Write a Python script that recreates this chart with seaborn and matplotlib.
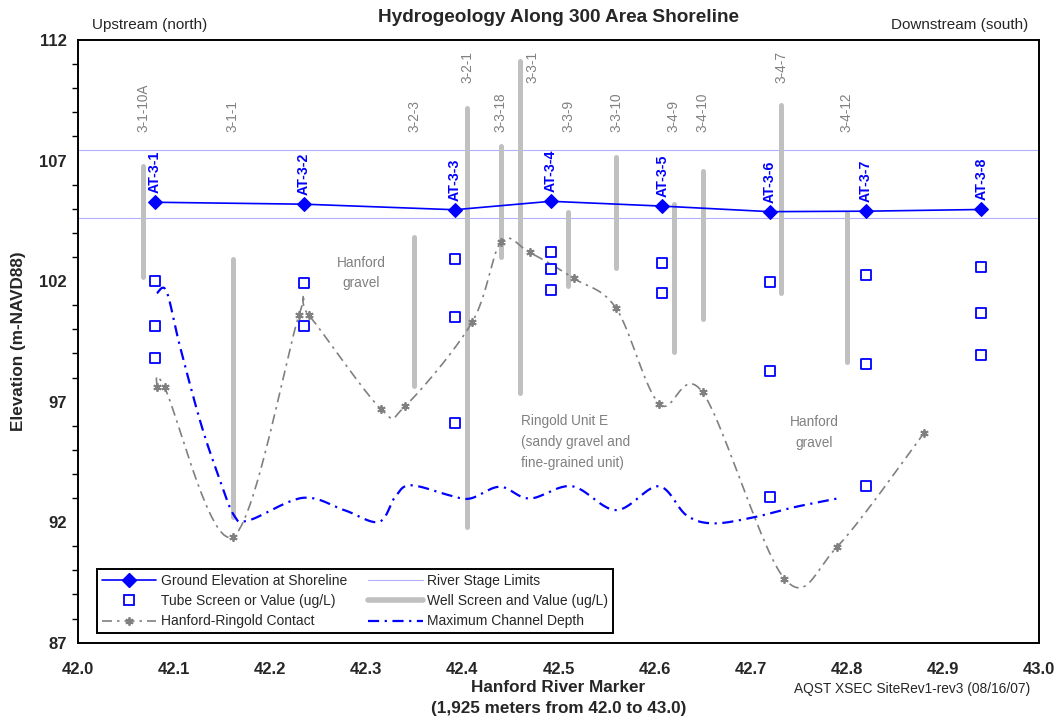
import numpy as np
import matplotlib
matplotlib.use("Agg")
import matplotlib.pyplot as plt
from matplotlib.lines import Line2D
from matplotlib.ticker import MultipleLocator, FixedLocator, FormatStrFormatter
import seaborn as sns

# ---------------- data ----------------
# Aquifer tube stations along the shoreline (river marker, ground elevation m)
at_names = ["AT-3-1", "AT-3-2", "AT-3-3", "AT-3-4", "AT-3-5", "AT-3-6", "AT-3-7", "AT-3-8"]
at_marker = [42.080, 42.235, 42.392, 42.492, 42.608, 42.720, 42.820, 42.940]
at_ground = [105.27, 105.19, 104.96, 105.31, 105.11, 104.88, 104.90, 104.97]

# Tube screen elevations (station, elevation m)
tube_station = ["AT-3-1", "AT-3-1", "AT-3-1",
                "AT-3-2", "AT-3-2",
                "AT-3-3", "AT-3-3", "AT-3-3",
                "AT-3-4", "AT-3-4", "AT-3-4",
                "AT-3-5", "AT-3-5",
                "AT-3-6", "AT-3-6", "AT-3-6",
                "AT-3-7", "AT-3-7", "AT-3-7",
                "AT-3-8", "AT-3-8", "AT-3-8"]
tube_elev = [102.00, 100.15, 98.83,
             101.92, 100.12,
             102.90, 100.52, 96.11,
             103.20, 102.49, 101.64,
             102.75, 101.49,
             101.96, 98.28, 93.05,
             102.26, 98.58, 93.51,
             102.57, 100.68, 98.92]

# Well screens (name, river marker, top and bottom of screen, m)
well_names = ["3-1-10A", "3-1-1", "3-2-3", "3-2-1", "3-3-18", "3-3-1",
              "3-3-9", "3-3-10", "3-4-9", "3-4-10", "3-4-7", "3-4-12"]
well_marker = [42.068, 42.161, 42.350, 42.405, 42.440, 42.460,
               42.510, 42.560, 42.620, 42.650, 42.732, 42.800]
well_top = [106.78, 102.90, 103.81, 109.19, 107.60, 111.14,
            104.85, 107.13, 105.20, 106.56, 109.29, 104.82]
well_bottom = [102.18, 92.20, 97.66, 91.78, 102.98, 97.37,
               101.78, 102.53, 99.05, 100.41, 101.49, 98.65]

# Hanford-Ringold contact picks
contact_marker = [42.082, 42.090, 42.161, 42.230, 42.240, 42.315, 42.340, 42.410,
                  42.440, 42.470, 42.516, 42.560, 42.605, 42.650, 42.735, 42.790, 42.880]
contact_elev = [97.59, 97.59, 91.39, 100.59, 100.59, 96.70, 96.80, 100.29,
                103.61, 103.19, 102.11, 100.87, 96.90, 97.38, 89.66, 90.98, 95.68]

# Maximum channel depth profile
channel_marker = [42.082, 42.092, 42.106, 42.127, 42.144, 42.162, 42.178, 42.234,
                  42.277, 42.313, 42.330, 42.346, 42.387, 42.408, 42.439, 42.470,
                  42.514, 42.560, 42.604, 42.633, 42.661, 42.703, 42.744, 42.790]
channel_elev = [101.50, 101.58, 99.30, 96.20, 94.15, 92.30, 92.08, 93.01,
                92.50, 92.01, 93.05, 93.53, 93.11, 92.98, 93.47, 92.98,
                93.49, 92.50, 93.49, 92.29, 91.95, 92.20, 92.61, 92.98]

# River stage limits (m)
river_stage = [107.45, 104.61]

# Elevation axis ticks
y_ticks = [87, 92, 97, 102, 107, 112]

# Geologic unit annotations
units = ["Hanford\ngravel", "Ringold Unit E\n(sandy gravel and\nfine-grained unit)", "Hanford\ngravel"]


def smooth(xs, ys, n=24):
    """Catmull-Rom spline through the given vertices (smoothed line style)."""
    p = np.column_stack([xs, ys]).astype(float)
    p = np.vstack([p[0], p, p[-1]])
    out = []
    t = np.linspace(0, 1, n, endpoint=False)[:, None]
    for i in range(1, len(p) - 2):
        p0, p1, p2, p3 = p[i - 1], p[i], p[i + 1], p[i + 2]
        seg = 0.5 * ((2 * p1) + (-p0 + p2) * t + (2 * p0 - 5 * p1 + 4 * p2 - p3) * t ** 2
                     + (-p0 + 3 * p1 - 3 * p2 + p3) * t ** 3)
        out.append(seg)
    out.append(p[-2][None, :])
    out = np.vstack(out)
    return out[:, 0], out[:, 1]


# ---------------- style ----------------
sns.set_style("white")
plt.rcParams["font.family"] = ["Liberation Sans", "DejaVu Sans"]

BLUE = "#0000ff"
GRAY = "#808080"
LIGHTGRAY = "#c0c0c0"

fig = plt.figure(figsize=(10.59, 7.21), dpi=100)
ax = fig.add_axes([0.0737, 0.1086, 0.9074, 0.8359])

# River stage limits
for lvl in river_stage:
    ax.axhline(lvl, color="#b0b0ff", lw=0.8, zorder=1)

# Well screens
ax.vlines(well_marker, well_bottom, well_top, colors=LIGHTGRAY, linewidth=3.6,
          capstyle="round", zorder=2)
for name, x, top in zip(well_names, well_marker, well_top):
    level = 110.2 if top > 108 else 108.2
    dx = 9 if top > level else 0
    ax.annotate(name, (x, level), xytext=(dx, 0), textcoords="offset points",
                rotation=90, ha="center", va="bottom", fontsize=9.8, color=GRAY)

# Hanford-Ringold contact
cx, cy = smooth(contact_marker, contact_elev)
ax.plot(cx, cy, color=GRAY, lw=1.2, linestyle=(0, (6, 3, 1.5, 3)), zorder=3)
ax.plot(contact_marker, contact_elev, linestyle="none", marker=(6, 2, 0),
        markersize=6, markeredgewidth=1.3, color=GRAY, zorder=3)

# Maximum channel depth
mx, my = smooth(channel_marker, channel_elev)
ax.plot(mx, my, color=BLUE, lw=1.6, linestyle=(0, (5, 2.5, 1, 2.5)), zorder=3)

# Ground elevation at shoreline
sns.lineplot(x=at_marker, y=at_ground, ax=ax, color=BLUE, lw=1.2, marker="D",
             markersize=7, markeredgecolor=BLUE, sort=False, estimator=None,
             zorder=5)
for name, x, y in zip(at_names, at_marker, at_ground):
    ax.annotate(name, (x, y), xytext=(0, 6.5), textcoords="offset points",
                rotation=90, ha="center", va="bottom", fontsize=10.2,
                fontweight="bold", color=BLUE)

# Tube screens
station_x = dict(zip(at_names, at_marker))
tube_x = [station_x[s] for s in tube_station]
sns.scatterplot(x=tube_x, y=tube_elev, ax=ax, marker="s", s=60,
                facecolor="white", edgecolor=BLUE, linewidth=1.3, zorder=6)

# Geologic unit labels
ax.text(42.295, 102.33, units[0], ha="center", va="center", fontsize=9.8,
        color=GRAY, linespacing=1.6)
ax.text(42.461, 95.32, units[1], ha="left", va="center", fontsize=9.8,
        color=GRAY, linespacing=1.62)
ax.text(42.766, 95.73, units[2], ha="center", va="center", fontsize=9.8,
        color=GRAY, linespacing=1.6)

# ---------------- axes ----------------
ax.set_xlim(42.0, 43.0)
ax.set_ylim(87, 112)
ax.xaxis.set_major_locator(MultipleLocator(0.1))
ax.xaxis.set_major_formatter(FormatStrFormatter("%.1f"))
ax.yaxis.set_major_locator(FixedLocator(y_ticks))
ax.yaxis.set_minor_locator(MultipleLocator(1))
ax.tick_params(axis="both", which="major", direction="inout", length=8,
               width=1.1, color="black", labelsize=12, pad=4)
ax.tick_params(axis="x", which="major", pad=10)
ax.tick_params(axis="y", which="minor", direction="out", length=4, width=1.0,
               color="black", left=True)
for lab in ax.get_xticklabels() + ax.get_yticklabels():
    lab.set_fontweight("bold")
for side in ["left", "right", "top", "bottom"]:
    ax.spines[side].set_visible(True)
    ax.spines[side].set_color("black")
    ax.spines[side].set_linewidth(1.4)
ax.set_xlabel("")
ax.set_ylabel("")

# Legend
handles = [
    Line2D([], [], color=BLUE, lw=1.2, marker="D", markersize=7),
    Line2D([], [], color=BLUE, lw=0, marker="s", markersize=7.5,
           markerfacecolor="white", markeredgewidth=1.3),
    Line2D([], [], color=GRAY, lw=1.2, linestyle=(0, (6, 3, 1.5, 3)),
           marker=(6, 2, 0), markersize=6, markeredgewidth=1.3),
    Line2D([], [], color="#b0b0ff", lw=0.8),
    Line2D([], [], color=LIGHTGRAY, lw=4),
    Line2D([], [], color=BLUE, lw=1.6, linestyle=(0, (5, 2.5, 1, 2.5))),
]
labels = ["Ground Elevation at Shoreline", "Tube Screen or Value (ug/L)",
          "Hanford-Ringold Contact", "River Stage Limits",
          "Well Screen and Value (ug/L)", "Maximum Channel Depth"]
leg = ax.legend(handles, labels, ncol=2, loc="lower left",
                bbox_to_anchor=(0.0201, 0.0156), borderaxespad=0,
                fontsize=10, handlelength=3.9, handletextpad=0.35,
                columnspacing=1.5, labelspacing=0.45, borderpad=0.35,
                numpoints=1, fancybox=False, framealpha=1, edgecolor="black")
leg.get_frame().set_linewidth(1.4)
leg.set_zorder(10)

# Titles and labels
fig.text(558.5 / 1059, 1 - 18 / 721, "Hydrogeology Along 300 Area Shoreline",
         ha="center", va="center", fontsize=13.7, fontweight="bold")
fig.text(92 / 1059, 1 - 25.5 / 721, "Upstream (north)", ha="left", va="center",
         fontsize=11)
fig.text(1028 / 1059, 1 - 25.5 / 721, "Downstream (south)", ha="right",
         va="center", fontsize=11)
fig.text(18.3 / 1059, 1 - 341.5 / 721, "Elevation (m-NAVD88)", rotation=90,
         ha="center", va="center", fontsize=12.3, fontweight="bold")
fig.text(558.5 / 1059, 1 - 687 / 721, "Hanford River Marker", ha="center",
         va="center", fontsize=12.3, fontweight="bold")
fig.text(558.5 / 1059, 1 - 709 / 721, "(1,925 meters from 42.0 to 43.0)",
         ha="center", va="center", fontsize=12.3, fontweight="bold")
fig.text(1030.7 / 1059, 1 - 689 / 721, "AQST XSEC SiteRev1-rev3 (08/16/07)",
         ha="right", va="center", fontsize=9.9)

fig.savefig("out.png", dpi=100)
